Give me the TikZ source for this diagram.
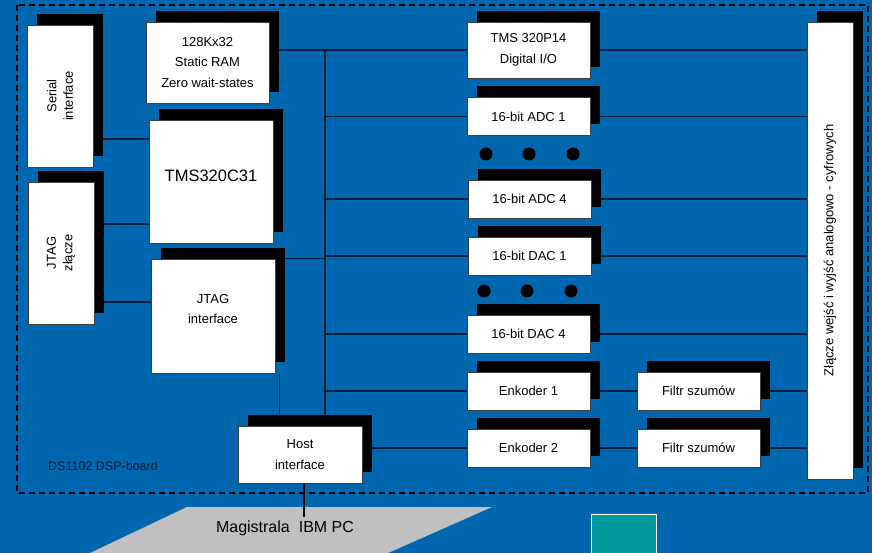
\documentclass[tikz,border=0pt]{standalone}
\usepackage{fontspec}
\setmainfont{Liberation Sans}
\usetikzlibrary{shadows,calc,backgrounds}
\definecolor{dspblue}{HTML}{0066AD}
\definecolor{dspwire}{HTML}{0A1D36}
\definecolor{dspgray}{HTML}{C0C0C0}
\definecolor{dspteal}{HTML}{009999}

\begin{document}
\begin{tikzpicture}[
  x=1pt, y=-1pt,
  board/.style={draw=black, line width=1.3pt, dash pattern=on 6pt off 4pt},
  unit/.style={draw=black!75, line width=0.7pt, fill=white, inner sep=0pt,
               general shadow={fill=black, shadow xshift=10pt, shadow yshift=11pt},
               font=\fontsize{13pt}{20.5pt}\selectfont, align=center, text=black},
  slot/.style={unit, minimum width=123pt, minimum height=38pt},
  vtext/.style={rotate=90, align=center, font=\fontsize{13pt}{16.5pt}\selectfont},
  lbl/.style={align=center, font=\fontsize{13pt}{20.5pt}\selectfont},
  wire/.style={dspwire, line width=1.3pt},
  dot/.style={circle, fill=black, inner sep=0pt, minimum size=13pt},
]
\useasboundingbox (0,0) rectangle (872,553);

%% Magistrala PC
\node[font=\fontsize{16pt}{19pt}\selectfont] (pcbus) at (285,528) {Magistrala\hspace{9pt}IBM PC};

%% Lewa kolumna
\node[unit, minimum width=66pt, minimum height=142pt] (serial) at (60,96) {};
\node[vtext] (serialtext) at (serial) {Serial\\interface};
\node[unit, minimum width=66pt, minimum height=142pt] (jtagc) at (61,253) {};
\node[vtext] (jtagctext) at (jtagc) {JTAG\\złącze};

%% Procesor, pamiec, JTAG, host
\node[unit, minimum width=123pt, minimum height=81pt] (ram) at (207.5,62.5) {128Kx32\\Static RAM\\Zero wait-states};
\node[unit, minimum width=124pt, minimum height=123pt] (cpu) at (211,181.5) {};
\node[font=\fontsize{16.5pt}{20pt}\selectfont] (cputext) at ([yshift=6pt]cpu.center) {TMS320C31};
\node[unit, minimum width=124pt, minimum height=114pt] (jtagif) at (213,316) {};
\node[lbl] (jtagiftext) at ([yshift=7pt]jtagif.center) {JTAG\\interface};
\node[unit, minimum width=124pt, minimum height=57pt] (host) at (300,454.5) {Host\\interface};

%% Prawa kolumna: wejscia / wyjscia
\node[unit, minimum width=123pt, minimum height=56pt] (dio) at (528.5,50) {TMS 320P14\\Digital I/O};
\node[slot] (adc1) at (528.5,116.5) {16-bit ADC 1};
\node[slot] (adc4) at (529.5,199) {16-bit ADC 4};
\node[slot] (dac1) at (529.5,256) {16-bit DAC 1};
\node[slot] (dac4) at (528.5,334) {16-bit DAC 4};
\node[slot] (enk1) at (528.5,391) {Enkoder 1};
\node[slot] (enk2) at (528.5,448) {Enkoder 2};
\node[slot] (filtr1) at (698.5,391) {Filtr szumów};
\node[slot] (filtr2) at (698.5,448) {Filtr szumów};
\node[unit, minimum width=46pt, minimum height=457pt] (zlacze) at (830,250.5) {};
\node[vtext] (zlaczetext) at (zlacze) {Złącze wejść i wyjść analogowo - cyfrowych};

%% Kropki
\foreach \dx [count=\i] in {486,529,573} \node[dot] (adcdot\i) at (\dx,154) {};
\foreach \dx [count=\i] in {484,527,571} \node[dot] (dacdot\i) at (\dx,291) {};

\begin{scope}[on background layer]
%% Tlo i plyta DSP
\fill[dspblue] (0,0) rectangle (872,553);
\draw[board] (17,5) rectangle (868,493);
\node[anchor=west, inner sep=0pt, text=dspwire,
      font=\fontsize{12.5pt}{15pt}\selectfont] (boardname) at (48,466) {DS1102 DSP-board};
\fill[dspgray] (187,507) -- (492,507) -- (388,553) -- (90,553) -- cycle;
\draw[white, fill=dspteal, line width=1pt] (591,514) rectangle (656,560);

%% Magistrala wewnetrzna
\coordinate (bustop) at (325,50);
\draw[wire] (ram.east |- dio.west) -- (dio.west);
\draw[wire] (dio.east) -- (dio.east -| zlacze.west);
\draw[wire] (bustop) -- (bustop |- host.north);
\foreach \n in {adc1,adc4,dac1,dac4,enk1}
  \draw[wire] (bustop |- \n.west) -- (\n.west);
\foreach \n in {adc1,adc4,dac1,dac4,filtr1,filtr2}
  \draw[wire] (\n.east) -- (\n.east -| zlacze.west);
\draw[wire] (enk1) -- (filtr1);
\draw[wire] (enk2) -- (filtr2);
\draw[wire] (host.east |- enk2.west) -- (enk2.west);

%% Polaczenia po lewej
\draw[wire] (jtagif.north east) -- (jtagif.north east -| bustop);
\draw[wire] ([xshift=4pt]jtagif.south east) -- ([xshift=4pt]jtagif.south east |- host.north);
\draw[wire] ([yshift=-43pt]serial.east) -- ([yshift=-43pt]serial.east -| cpu.west);
\draw[wire] ([yshift=29pt]jtagc.east) -- ([yshift=29pt]jtagc.east -| cpu.west);
\draw[wire] ([yshift=-49pt]jtagc.east) -- ([yshift=-49pt]jtagc.east -| jtagif.west);
\draw[wire, black] ([xshift=4pt]host.south) -- ([xshift=4pt]host.south |- pcbus.north);
\end{scope}

\end{tikzpicture}
\end{document}
